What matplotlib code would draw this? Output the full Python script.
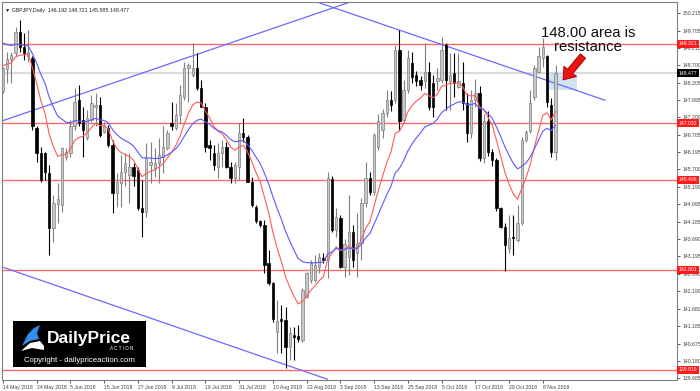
import matplotlib
matplotlib.use('Agg')
import matplotlib.pyplot as plt
from matplotlib.patches import Rectangle, Polygon
import numpy as np
import pandas as pd

plt.rcParams['font.family'] = ['Liberation Sans', 'DejaVu Sans']

# daily GBPJPY candles, first bar 14 May 2018 (weekdays only)
opens = [147.95, 148.59, 148.88, 149.05, 149.68, 149.24, 148.96, 148.91, 146.89, 146.17,
         146.17, 145.59, 144.00, 144.70, 144.68, 146.07, 146.17, 146.94, 147.70, 147.13,
         146.60, 147.13, 147.50, 147.56, 146.79, 146.89, 146.41, 145.01, 145.30, 145.64,
         145.54, 145.78, 145.68, 144.58, 144.48, 145.83, 145.73, 145.88, 146.07, 146.31,
         147.03, 146.89, 147.27, 147.80, 148.62, 148.43, 148.62, 148.04, 147.51, 146.41,
         146.17, 145.78, 146.17, 146.36, 145.78, 145.45, 145.78, 146.74, 146.65, 145.35,
         144.63, 144.20, 144.10, 142.99, 142.42, 141.00, 141.40, 141.36, 140.59, 140.93,
         140.90, 140.78, 142.03, 142.51, 142.51, 142.90, 143.14, 143.09, 145.42, 143.96,
         144.30, 142.90, 143.18, 143.90, 143.28, 143.57, 144.72, 145.45, 145.06, 146.35,
         146.85, 147.32, 147.70, 147.70, 149.15, 147.13, 147.99, 148.76, 148.43, 148.28,
         148.24, 148.52, 148.19, 148.24, 148.28, 149.29, 148.24, 148.47, 148.09, 148.20,
         147.61, 146.75, 147.70, 147.90, 146.02, 147.10, 146.20, 145.97, 144.58, 144.05,
         143.43, 143.75, 143.66, 144.15, 146.55, 146.80, 147.80, 148.52, 148.91, 148.96,
         147.55, 146.192]
highs = [148.67, 149.10, 149.10, 149.82, 150.01, 149.63, 149.72, 148.96, 146.94, 146.36,
         146.21, 145.83, 144.96, 145.30, 146.36, 146.31, 147.13, 148.04, 148.14, 147.51,
         147.42, 147.85, 147.90, 147.80, 147.08, 146.98, 146.55, 145.59, 146.12, 146.17,
         146.17, 145.88, 145.78, 145.40, 146.45, 146.50, 146.31, 146.60, 146.94, 146.84,
         147.66, 147.61, 148.14, 148.81, 148.76, 149.34, 149.05, 148.28, 147.61, 146.55,
         146.41, 146.45, 146.55, 146.50, 145.93, 145.93, 147.03, 147.18, 146.70, 145.49,
         144.68, 144.24, 144.24, 143.38, 142.46, 141.93, 141.79, 141.74, 141.16, 141.16,
         141.21, 142.27, 142.75, 143.09, 143.23, 143.28, 143.30, 145.64, 145.50, 144.60,
         144.40, 143.70, 144.96, 144.10, 144.44, 144.87, 145.93, 145.64, 146.74, 147.30,
         147.45, 147.99, 147.95, 149.29, 149.72, 148.28, 149.15, 149.10, 148.55, 148.40,
         149.34, 148.81, 148.43, 148.62, 149.53, 149.34, 149.05, 149.05, 149.05, 148.81,
         147.90, 148.00, 148.30, 148.10, 147.30, 147.40, 146.30, 146.02, 144.63, 144.15,
         144.39, 144.39, 144.68, 146.64, 146.84, 148.00, 148.71, 149.24, 149.48, 149.00,
         147.75, 148.721]
lows = [147.90, 148.19, 148.20, 148.96, 149.10, 148.86, 148.81, 146.84, 145.93, 145.35,
        145.40, 143.23, 143.62, 144.15, 144.48, 145.97, 146.07, 146.84, 146.94, 146.07,
        146.55, 147.08, 146.94, 146.65, 146.74, 146.36, 144.44, 144.63, 144.63, 145.21,
        144.73, 145.21, 144.53, 143.76, 144.34, 145.30, 145.49, 145.30, 145.59, 146.26,
        146.84, 146.84, 147.03, 147.70, 147.66, 148.38, 147.99, 147.51, 146.21, 145.97,
        145.68, 145.45, 145.78, 145.73, 145.30, 145.30, 145.40, 146.50, 145.35, 144.63,
        144.15, 144.05, 142.70, 142.37, 141.30, 140.40, 140.40, 139.96, 140.20, 140.20,
        140.73, 140.73, 141.98, 142.42, 142.46, 142.70, 142.99, 142.56, 143.90, 143.75,
        142.85, 142.60, 142.65, 142.90, 142.60, 143.09, 144.63, 144.96, 144.96, 146.25,
        146.60, 147.22, 147.40, 147.61, 146.84, 147.03, 147.90, 148.19, 148.10, 148.00,
        148.04, 147.42, 147.22, 147.99, 148.19, 147.42, 147.42, 147.80, 148.04, 147.42,
        146.50, 146.60, 147.50, 145.95, 145.90, 146.10, 145.80, 144.50, 144.00, 142.78,
        143.28, 143.22, 143.62, 144.10, 146.50, 146.75, 147.70, 148.47, 148.67, 147.51,
        146.05, 145.985]
closes = [148.62, 148.88, 149.00, 149.68, 149.24, 149.05, 149.10, 146.94, 146.17, 145.40,
          145.64, 144.00, 144.72, 144.85, 146.31, 146.21, 146.94, 147.66, 147.03, 146.84,
          147.18, 147.61, 147.56, 146.70, 146.94, 146.41, 145.01, 145.35, 145.64, 145.88,
          145.78, 145.50, 144.58, 144.48, 146.02, 145.93, 145.88, 146.12, 146.36, 146.74,
          146.94, 147.27, 147.85, 148.62, 148.71, 148.62, 148.04, 147.51, 146.36, 146.31,
          145.83, 146.17, 146.36, 145.78, 145.45, 145.83, 146.74, 146.65, 145.35, 144.68,
          144.20, 144.10, 142.95, 142.42, 141.40, 141.33, 141.34, 140.59, 140.97, 140.88,
          140.80, 142.22, 142.70, 142.99, 142.94, 143.18, 143.09, 145.45, 143.96, 144.34,
          142.90, 143.55, 143.90, 143.10, 143.57, 144.72, 145.45, 145.06, 146.70, 147.10,
          147.32, 147.70, 147.56, 149.15, 147.10, 147.99, 148.91, 148.38, 148.24, 148.14,
          148.52, 147.51, 147.51, 148.33, 149.15, 148.28, 148.43, 148.19, 148.24, 147.61,
          146.75, 147.70, 147.90, 146.02, 147.10, 146.20, 145.97, 144.58, 144.05, 143.52,
          143.72, 143.71, 144.15, 146.55, 146.79, 147.61, 148.62, 148.96, 149.24, 147.66,
          146.19, 148.477]

ema_periods = (10, 20)
ema_seeds = (148.70, 149.35)   # MA values at the first visible bar

levels = [149.321, 147.032, 145.406, 142.801, 139.919]
last_price = 148.477
price_ticks = [150.215, 149.705, 149.210, 148.700, 148.205, 147.695, 147.200, 146.705,
               146.195, 145.700, 145.190, 144.695, 144.185, 143.690, 143.195, 142.690,
               142.190, 141.680, 141.185, 140.675, 140.180, 139.685]

# trendlines as (bar index, price) end points
trendlines = [((-0.2, 147.10), (82.3, 150.53)),
              ((74.5, 150.53), (142.7, 147.70)),
              ((-0.2, 142.89), (76.9, 139.65))]
zone = (129.0, 136.1, 148.00, 148.50)

dates = pd.bdate_range('2018-05-14', periods=len(closes))
n = len(closes)
idx = np.arange(n)

def ema(vals, period, seed):
  a = 2.0/(period + 1)
  out = [seed]
  for v in vals[1:]:
    out.append(a*v + (1 - a)*out[-1])
  return out

W, H = 700, 391
fig = plt.figure(figsize=(7, 3.91), dpi=100)
ax = fig.add_axes([2/W, 1-380/H, 675/W, 378/H])
ax.set_xlim(-0.2, 159.8)
ax.set_ylim(139.626, 150.532)

# levels and current price
for lv in levels:
  ax.axhline(lv, color='#ff6a6a', lw=1.0, zorder=1)
ax.axhline(last_price, color='#dcdcdc', lw=1.6, zorder=1)

# trendlines
for (x0, y0), (x1, y1) in trendlines:
  ax.plot([x0, x1], [y0, y1], color='#6a6aff', lw=0.9, zorder=2)

# resistance zone
ax.add_patch(Rectangle((zone[0], zone[2]), zone[1]-zone[0], zone[3]-zone[2],
                       facecolor='#c4dcf0', alpha=0.8, edgecolor='none', zorder=1.5))

# candles
o = np.array(opens); h = np.array(highs); l = np.array(lows); c = np.array(closes)
up = c >= o
ax.vlines(idx[up], l[up], h[up], color='#7f7f7f', lw=0.8, zorder=3)
ax.vlines(idx[~up], l[~up], h[~up], color='#000000', lw=0.8, zorder=3)
ax.bar(idx[up], (c-o)[up], bottom=o[up], width=0.55, color='#c8c8c8',
       edgecolor='#7f7f7f', linewidth=0.5, zorder=4)
ax.bar(idx[~up], (o-c)[~up], bottom=c[~up], width=0.55, color='#000000',
       edgecolor='#000000', linewidth=0.5, zorder=4)

# moving averages
ax.plot(idx, ema(closes, ema_periods[0], ema_seeds[0]), color='#ff5a5a', lw=0.8, zorder=5)
ax.plot(idx, ema(closes, ema_periods[1], ema_seeds[1]), color='#5a5aff', lw=0.8, zorder=5)

# axes styling
for s in ax.spines.values():
  s.set_color('#808080')
  s.set_linewidth(0.8)
ax.yaxis.tick_right()
ax.set_yticks(price_ticks)
ax.set_yticklabels(['%.3f' % t for t in price_ticks])
ax.tick_params(axis='y', labelsize=3.7, colors='#404040', length=2.5, width=0.6, pad=1.5)
xt = idx[::8]
ax.set_xticks(xt)
ax.set_xticklabels([d.strftime('%-d %b %Y') for d in dates[xt]], ha='left')
ax.tick_params(axis='x', labelsize=3.7, colors='#404040', length=2.5, width=0.6, pad=1.0)

# price tags on the right
for lv, fc in [(v, '#ff1a1a') for v in levels] + [(last_price, '#000000')]:
  ax.text(1.003, lv, '%.3f' % lv, transform=ax.get_yaxis_transform(), fontsize=3.7,
          color='white', va='center', ha='left',
          bbox=dict(boxstyle='square,pad=0.3', fc=fc, ec='none'), zorder=10)

# header
ax.text(0.004, 0.985, '\u25bc GBPJPY,Daily  %.3f %.3f %.3f %.3f' % (opens[-1], highs[-1], lows[-1], closes[-1]),
        transform=ax.transAxes, fontsize=3.8, color='#202020', va='top', ha='left')

# annotation
fig.text(588/W, 1-40/H, '148.00 area is\nresistance', fontsize=10.7, ha='center',
         va='center', color='#111111', linespacing=1.08, zorder=10)
ax.annotate('', xy=(563, H-80), xycoords='figure pixels', xytext=(583, H-56),
            textcoords='figure pixels',
            arrowprops=dict(arrowstyle='simple,head_width=1.3,head_length=0.9,tail_width=0.55',
                            fc='#ee1111', ec='#990000', lw=0.6, mutation_scale=9,
                            shrinkA=0, shrinkB=0), zorder=10)

# logo
fig.patches.append(Rectangle((13/W, 1-367/H), 133/W, 46/H, transform=fig.transFigure,
                             fc='black', ec='none', zorder=20))
fig.patches.append(Polygon([(22/W, 1-346/H), (28/W, 1-334/H), (34/W, 1-328/H), (40/W, 1-325/H),
                            (37/W, 1-333/H), (39/W, 1-339/H), (30/W, 1-341/H)],
                           closed=True, transform=fig.transFigure, fc='#2f8fea', ec='none', zorder=21))
fig.patches.append(Polygon([(21/W, 1-351/H), (30/W, 1-343/H), (40/W, 1-341/H), (44/W, 1-346/H),
                            (44/W, 1-350/H), (32/W, 1-348/H)],
                           closed=True, transform=fig.transFigure, fc='white', ec='none', zorder=21))
fig.text(47/W, 1-339/H, 'DailyPrice', fontsize=12.5, fontweight='bold', color='white',
         va='center', ha='left', zorder=22)
fig.text(133/W, 1-348.5/H, 'A C T I O N', fontsize=3.3, color='white', va='center',
         ha='right', zorder=22)
fig.text(79/W, 1-360/H, 'Copyright - dailypriceaction.com', fontsize=5.6, color='white',
         va='center', ha='center', zorder=22)

fig.savefig('out.png', dpi=100)
